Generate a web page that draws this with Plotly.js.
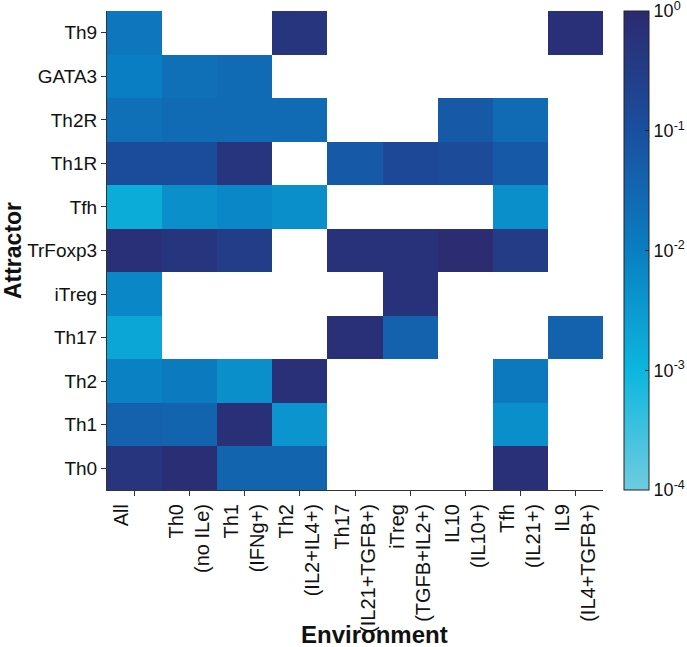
<!DOCTYPE html>
<html>
<head>
<meta charset="utf-8">
<script src="https://cdn.plot.ly/plotly-3.0.1.min.js"></script>
<style>html,body{margin:0;padding:0;background:#fff;}</style>
</head>
<body>
<div id="chart" style="width:687px;height:647px;"></div>
<script>
const environments = ["All<br>", "Th0<br>(no ILe)", "Th1<br>(IFNg+)", "Th2<br>(IL2+IL4+)", "Th17<br>(IL21+TGFB+)", "iTreg<br>(TGFB+IL2+)", "IL10<br>(IL10+)", "Tfh<br>(IL21+)", "IL9<br>(IL4+TGFB+)"];
const attractors = ["Th9", "GATA3", "Th2R", "Th1R", "Tfh", "TrFoxp3", "iTreg", "Th17", "Th2", "Th1", "Th0"];
// Fraction of states per attractor (rows top to bottom), columns follow environments
const rowTh9     = [0.015, null, null, 0.5, null, null, null, null, 0.7];
const rowGATA3   = [0.01, 0.02, 0.025, null, null, null, null, null, null];
const rowTh2R    = [0.02, 0.025, 0.025, 0.025, null, null, 0.06, 0.025, null];
const rowTh1R    = [0.12, 0.12, 0.5, null, 0.06, 0.15, 0.13, 0.06, null];
const rowTfh     = [0.0015, 0.005, 0.007, 0.005, null, null, null, 0.005, null];
const rowTrFoxp3 = [0.7, 0.5, 0.3, null, 0.6, 0.6, 0.9, 0.35, null];
const rowiTreg   = [0.007, null, null, null, null, 0.6, null, null, null];
const rowTh17    = [0.002, null, null, null, 0.7, 0.04, null, null, 0.04];
const rowTh2     = [0.009, 0.012, 0.005, 0.7, null, null, null, 0.013, null];
const rowTh1     = [0.04, 0.035, 0.7, 0.004, null, null, null, 0.005, null];
const rowTh0     = [0.5, 0.8, 0.035, 0.035, null, null, null, 0.7, null];
const cbTickVals = [-4, -3, -2, -1, 0];
const cbTickText = ["10<sup>-4</sup>", "10<sup>-3</sup>", "10<sup>-2</sup>", "10<sup>-1</sup>", "10<sup>0</sup>"];

const rows = [rowTh9, rowGATA3, rowTh2R, rowTh1R, rowTfh, rowTrFoxp3, rowiTreg, rowTh17, rowTh2, rowTh1, rowTh0];
const z = rows.map(r => r.map(v => v === null ? null : Math.log10(v)));

const font = "Liberation Sans, Arial, sans-serif";
const trace = {
  type: "heatmap",
  x: environments,
  y: attractors,
  z: z,
  zmin: -4, zmax: 0,
  colorscale: [[0, "#6fccdf"], [0.25, "#0cb6de"], [0.5, "#0a7ec2"], [0.75, "#1a4f9f"], [1, "#2c2a70"]],
  hoverongaps: false,
  colorbar: {
    x: 1.042, xanchor: "left", xpad: 0,
    y: 0.5, yanchor: "middle", len: 1.0, ypad: 0,
    thickness: 25,
    outlinewidth: 1, outlinecolor: "#222",
    tickvals: cbTickVals, ticktext: cbTickText,
    ticks: "inside", ticklen: 4, tickcolor: "#222",
    ticklabeloverflow: "allow",
    tickfont: {family: font, size: 18, color: "#111"}
  }
};
const layout = {
  width: 687, height: 647,
  margin: {l: 107, r: 84, t: 11, b: 157, autoexpand: false},
  paper_bgcolor: "#fff", plot_bgcolor: "#fff",
  xaxis: {
    type: "category",
    showline: true, linecolor: "#333", linewidth: 1,
    ticks: "outside", ticklen: 5, tickcolor: "#333",
    tickangle: -90,
    tickfont: {family: font, size: 20, color: "#111"},
    showgrid: false, zeroline: false
  },
  yaxis: {
    type: "category",
    autorange: "reversed",
    showline: true, linecolor: "#333", linewidth: 1,
    ticks: "outside", ticklen: 5, tickcolor: "#333",
    tickfont: {family: font, size: 19, color: "#111"},
    showgrid: false, zeroline: false,
    title: {text: "<b>Attractor</b>", font: {family: font, size: 23, color: "#111"}, standoff: 2}
  },
  annotations: [{
    text: "<b>Environment</b>", xref: "paper", yref: "paper",
    x: 0.54, y: -0.302, xanchor: "center", yanchor: "middle",
    showarrow: false, font: {family: font, size: 24, color: "#111"}
  }]
};
Plotly.newPlot("chart", [trace], layout, {displayModeBar: false});
</script>
</body>
</html>
